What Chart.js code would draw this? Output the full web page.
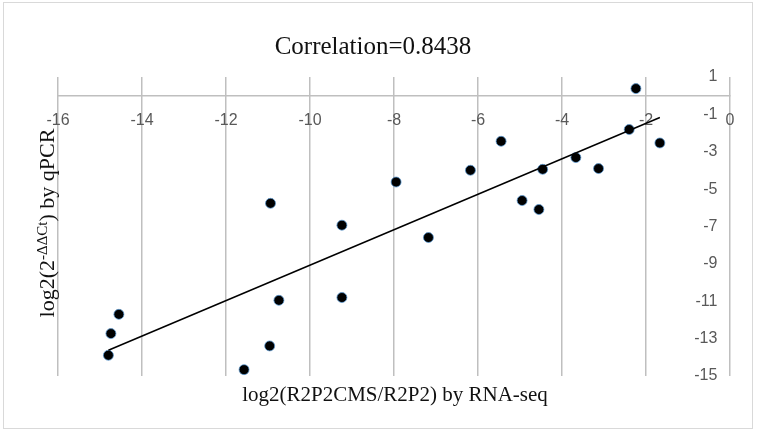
<!DOCTYPE html>
<html>
<head>
<meta charset="utf-8">
<script src="https://cdn.jsdelivr.net/npm/chart.js@4/dist/chart.umd.min.js"></script>
<style>
  html, body { margin: 0; padding: 0; background: #fff; }
  #wrap { width: 758px; height: 431px; position: relative; }
</style>
</head>
<body>
<div id="wrap"><canvas id="corrChart"></canvas></div>
<script>
// ---------- DATA ----------
const rnaSeq = [-2.24, -2.40, -1.67, -5.45, -6.18, -4.46, -3.67, -3.13, -7.95, -4.95, -4.55,
  -10.94, -9.24, -9.24, -10.74, -14.55, -14.74, -14.80, -10.96, -11.57, -7.18];
const qPcr = [0.38, -1.81, -2.53, -2.44, -3.99, -3.94, -3.31, -3.90, -4.62, -5.61, -6.09,
  -5.76, -6.93, -10.80, -10.95, -11.70, -12.73, -13.89, -13.39, -14.66, -7.59];
const trendX = [-14.80, -1.67];
const trendY = [-13.62, -1.17];
const xTicks = [-16, -14, -12, -10, -8, -6, -4, -2, 0];
const yTicks = [-15, -13, -11, -9, -7, -5, -3, -1, 1];

const SERIF = "'Liberation Serif', 'Times New Roman', serif";
const SANS = "'Liberation Sans', Arial, sans-serif";

// ---------- TEXT + FRAME PLUGIN ----------
const decor = {
  id: "decor",
  beforeDraw(chart) {
    const ctx = chart.ctx;
    ctx.save();
    ctx.fillStyle = "#fff";
    ctx.fillRect(0, 0, chart.width, chart.height);
    ctx.strokeStyle = "#d9d9d9";
    ctx.lineWidth = 1;
    ctx.strokeRect(3.5, 2.5, 749, 426);
    ctx.restore();
  },
  afterDraw(chart) {
    const ctx = chart.ctx;
    ctx.save();
    ctx.fillStyle = "#111";
    ctx.textBaseline = "alphabetic";
    ctx.textAlign = "center";

    // title
    ctx.font = "25px " + SERIF;
    ctx.fillText("Correlation=0.8438", 373, 54);

    // x axis title
    ctx.font = "21px " + SERIF;
    ctx.fillText("log2(R2P2CMS/R2P2) by RNA-seq", 395, 401);

    // y axis title with superscript
    const parts = [
      { t: "log2(2", size: 22, rise: 0 },
      { t: "-ΔΔCt", size: 15, rise: 7 },
      { t: ") by qPCR", size: 22, rise: 0 },
    ];
    let total = 0;
    parts.forEach((p) => {
      ctx.font = p.size + "px " + SERIF;
      p.w = ctx.measureText(p.t).width;
      total += p.w;
    });
    ctx.translate(54, 223);
    ctx.rotate(-Math.PI / 2);
    ctx.textAlign = "left";
    let cx = -total / 2;
    parts.forEach((p) => {
      ctx.font = p.size + "px " + SERIF;
      ctx.fillText(p.t, cx, -p.rise);
      cx += p.w;
    });
    ctx.restore();
  },
};

// ---------- CHART ----------
const tickFont = { size: 16, family: SANS };

new Chart(document.getElementById("corrChart"), {
  type: "scatter",
  data: {
    datasets: [
      {
        type: "line",
        label: "trend",
        data: trendX.map((x, i) => ({ x, y: trendY[i] })),
        borderColor: "#000",
        borderWidth: 1.5,
        pointRadius: 0,
        fill: false,
        order: 0,
      },
      {
        label: "genes",
        data: rnaSeq.map((x, i) => ({ x, y: qPcr[i] })),
        pointRadius: 5,
        pointBackgroundColor: "#000",
        pointBorderColor: "rgba(91,155,213,0.75)",
        pointBorderWidth: 1,
        order: 1,
      },
    ],
  },
  options: {
    responsive: true,
    maintainAspectRatio: false,
    animation: false,
    layout: { padding: { left: 58, right: 28, top: 77, bottom: 55 } },
    plugins: { legend: { display: false }, tooltip: { enabled: false } },
    scales: {
      x: {
        type: "linear",
        min: -16,
        max: 0,
        position: { y: 0 },
        afterBuildTicks: (axis) => { axis.ticks = xTicks.map((v) => ({ value: v })); },
        grid: { color: "#bfbfbf", lineWidth: 1.5, drawTicks: false },
        border: { color: "#bfbfbf", width: 1.5 },
        ticks: { padding: 15, color: "#595959", font: tickFont, maxRotation: 0 },
      },
      y: {
        type: "linear",
        min: -15,
        max: 1,
        // labels hang just left of the x=0 line (object position ignores padding)
        position: { x: -0.3 },
        afterBuildTicks: (axis) => { axis.ticks = yTicks.map((v) => ({ value: v })); },
        grid: { display: false, drawTicks: false },
        border: { display: false },
        ticks: { color: "#595959", font: tickFont },
      },
    },
  },
  plugins: [decor],
});
</script>
</body>
</html>
